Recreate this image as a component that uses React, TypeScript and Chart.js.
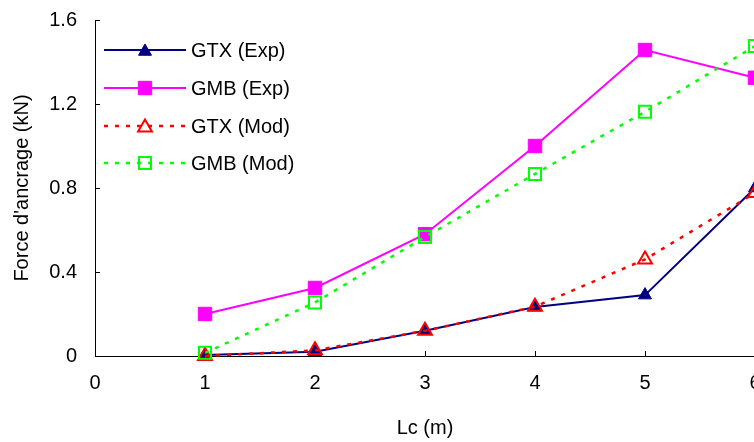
import React, { useEffect, useRef } from "react";
import { Chart, registerables } from "chart.js";

Chart.register(...registerables);

const lcValues = [1, 2, 3, 4, 5, 6];
const gtxExp = [0.005, 0.02, 0.12, 0.233, 0.29, 0.8];
const gmbExp = [0.2, 0.324, 0.58, 1.0, 1.457, 1.325];
const gtxMod = [0.0, 0.027, 0.12, 0.235, 0.46, 0.776];
const gmbMod = [0.015, 0.255, 0.567, 0.867, 1.163, 1.476];
const seriesNames = ["GTX (Exp)", "GMB (Exp)", "GTX (Mod)", "GMB (Mod)"];
const xTicks = [0, 1, 2, 3, 4, 5, 6];
const yTicks = [0, 0.4, 0.8, 1.2, 1.6];

const FONT = "'Liberation Sans', Arial, sans-serif";
const FS = 20;

const toPts = (vals: number[]) => vals.map((v, i) => ({ x: lcValues[i], y: v }));

export default function App() {
  const ref = useRef<HTMLCanvasElement | null>(null);
  useEffect(() => {
    if (!ref.current) return;
    const styles = [
      { color: "#000080", style: "triangle", radius: 7.5, fill: true, dash: [] as number[], width: 2 },
      { color: "#FF00FF", style: "rect", radius: 9.5, fill: true, dash: [] as number[], width: 2 },
      { color: "#FF0000", style: "triangle", radius: 8, fill: false, dash: [4, 7], width: 2.5 },
      { color: "#00FF00", style: "rect", radius: 8.5, fill: false, dash: [4, 7], width: 2.5 },
    ];
    const dataArrays = [gtxExp, gmbExp, gtxMod, gmbMod];
    const datasets = dataArrays.map((arr, i) => ({
      label: seriesNames[i],
      data: toPts(arr),
      borderColor: styles[i].color,
      backgroundColor: styles[i].fill ? styles[i].color : "rgba(0,0,0,0)",
      borderWidth: styles[i].width,
      borderDash: styles[i].dash,
      pointStyle: styles[i].style as any,
      pointRadius: styles[i].radius,
      pointHoverRadius: styles[i].radius,
      pointBorderWidth: styles[i].fill ? 1 : 2,
      pointBorderColor: styles[i].color,
      pointBackgroundColor: styles[i].fill ? styles[i].color : "rgba(0,0,0,0)",
      tension: 0,
      fill: false,
      clip: false as any,
      order: 3 - i,
    }));

    const axisTicks = {
      id: "axisTicks",
      beforeDatasetsDraw(chart: any) {
        const { ctx, chartArea, scales } = chart;
        const x = scales.x, y = scales.y;
        ctx.save();
        ctx.strokeStyle = "#000";
        ctx.lineWidth = 1;
        ctx.beginPath();
        yTicks.forEach((v) => {
          const py = Math.round(y.getPixelForValue(v)) + 0.5;
          ctx.moveTo(chartArea.left, py);
          ctx.lineTo(chartArea.left + 5, py);
        });
        xTicks.forEach((v) => {
          const px = Math.round(x.getPixelForValue(v)) + 0.5;
          ctx.moveTo(px, chartArea.bottom);
          ctx.lineTo(px, chartArea.bottom - 5);
        });
        ctx.stroke();
        ctx.restore();
      },
    };

    const legendPlugin = {
      id: "customLegend",
      afterDraw(chart: any) {
        const { ctx } = chart;
        ctx.save();
        const rowsY = [50, 88, 126, 163];
        styles.forEach((s, i) => {
          const yy = rowsY[i];
          ctx.strokeStyle = s.color;
          ctx.lineWidth = s.width;
          ctx.setLineDash(s.dash);
          ctx.beginPath();
          ctx.moveTo(104, yy);
          ctx.lineTo(186, yy);
          ctx.stroke();
          ctx.setLineDash([]);
          ctx.lineWidth = s.fill ? 1 : 2;
          ctx.fillStyle = s.fill ? s.color : "#ffffff";
          ctx.strokeStyle = s.color;
          const r = s.radius;
          ctx.beginPath();
          if (s.style === "triangle") {
            const a = -Math.PI / 2;
            for (let k = 0; k < 3; k++) {
              const ang = a + (k * 2 * Math.PI) / 3;
              const px = 145 + Math.cos(ang) * r;
              const py = yy + 1.5 + Math.sin(ang) * r;
              if (k === 0) ctx.moveTo(px, py);
              else ctx.lineTo(px, py);
            }
            ctx.closePath();
          } else {
            const h = Math.SQRT1_2 * r;
            ctx.rect(145 - h, yy - h, 2 * h, 2 * h);
          }
          if (s.fill) ctx.fill();
          ctx.stroke();
          ctx.fillStyle = "#000";
          ctx.font = `${FS}px ${FONT}`;
          ctx.textBaseline = "middle";
          ctx.textAlign = "left";
          ctx.fillText(seriesNames[i], 191, yy + 1);
        });
        ctx.restore();
      },
    };

    const chart = new Chart(ref.current, {
      type: "line",
      data: { datasets: datasets as any },
      options: {
        animation: false,
        responsive: false,
        maintainAspectRatio: false,
        layout: { padding: { left: 0, top: 20, right: 45, bottom: 0 } },
        plugins: { legend: { display: false }, tooltip: { enabled: false } },
        scales: {
          x: {
            type: "linear",
            min: 0,
            max: 6,
            afterBuildTicks: (s: any) => {
              s.ticks = xTicks.map((v) => ({ value: v }));
            },
            afterFit: (s: any) => {
              s.height = 86;
              s.paddingLeft = 0;
              s.paddingRight = 0;
            },
            grid: { display: true, drawOnChartArea: false, drawTicks: false },
            border: { display: true, color: "#000", width: 1 },
            ticks: { color: "#000", font: { size: FS, family: FONT }, padding: 15, maxRotation: 0 },
            title: {
              display: true,
              text: "Lc (m)",
              color: "#000",
              font: { size: FS, family: FONT },
              padding: { top: 0, bottom: 2 },
            },
          },
          y: {
            type: "linear",
            min: 0,
            max: 1.6,
            afterBuildTicks: (s: any) => {
              s.ticks = yTicks.map((v) => ({ value: v }));
            },
            afterFit: (s: any) => {
              s.width = 95;
              s.paddingTop = 0;
              s.paddingBottom = 0;
            },
            grid: { display: true, drawOnChartArea: false, drawTicks: false },
            border: { display: true, color: "#000", width: 1 },
            ticks: {
              color: "#000",
              font: { size: FS, family: FONT },
              padding: 18,
              callback: (v: any) => String(Number(v)),
            },
            title: {
              display: true,
              text: "Force d'ancrage (kN)",
              color: "#000",
              font: { size: FS, family: FONT },
              padding: { top: 10, bottom: 0 },
            },
          },
        },
      },
      plugins: [axisTicks, legendPlugin],
    });
    return () => chart.destroy();
  }, []);

  return (
    <div
      style={{
        position: "absolute",
        left: 0,
        top: 0,
        width: 754,
        height: 442,
        overflow: "hidden",
        background: "#fff",
      }}
    >
      <canvas ref={ref} width={800} height={442} style={{ display: "block" }} />
    </div>
  );
}
